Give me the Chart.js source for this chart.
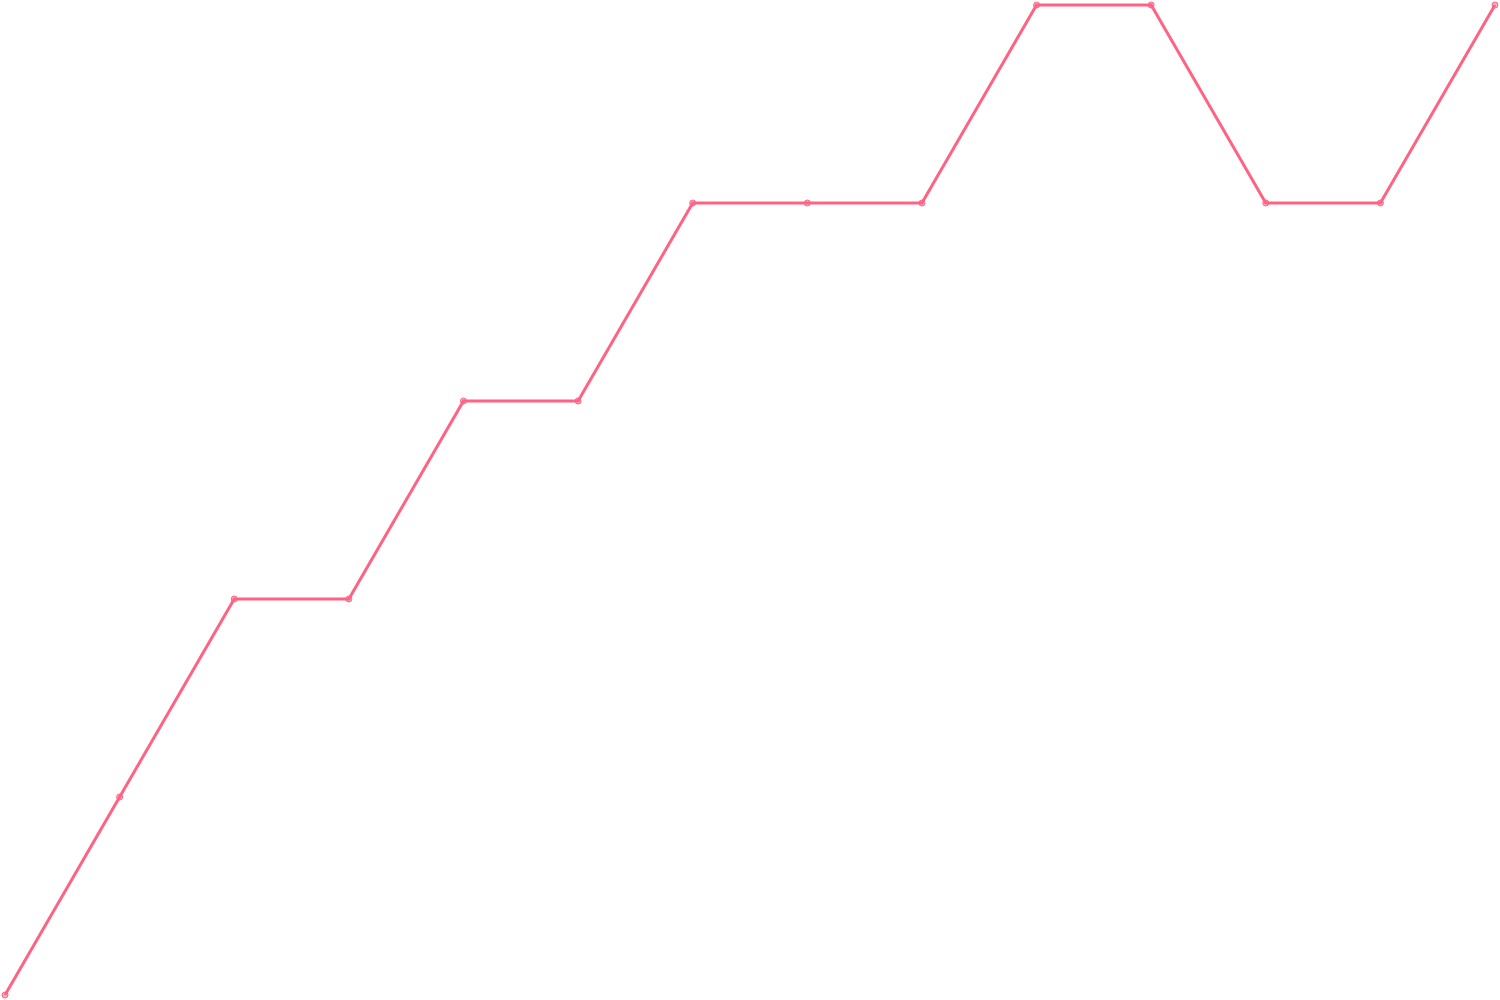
<!DOCTYPE html>
<html>
<head>
<meta charset="utf-8">
<script src="https://cdn.jsdelivr.net/npm/chart.js@4"></script>
<style>
  html, body { margin: 0; padding: 0; background: #fff; }
  #wrap { width: 1500px; height: 1000px; }
</style>
</head>
<body>
<div id="wrap"><canvas id="stepChart"></canvas></div>
<script>
// labels (hidden axis) and values
var labels = ['1', '2', '3', '4', '5', '6', '7', '8', '9', '10', '11', '12', '13', '14'];
var values = [0, 1, 2, 2, 3, 3, 4, 4, 4, 5, 5, 4, 4, 5];

var ctx = document.getElementById('stepChart').getContext('2d');
var chart = new Chart(ctx, {
    type: 'line',
    data: {
        labels: labels,
        datasets: [{
            data: values,
            borderColor: 'rgb(255, 99, 132)',
            backgroundColor: 'rgba(255, 99, 132, 0.5)',
            borderWidth: 3,
            pointRadius: 3,
            pointBorderWidth: 1,
            fill: false,
            tension: 0,
            clip: false
        }]
    },
    options: {
        responsive: true,
        maintainAspectRatio: false,
        animation: false,
        layout: { padding: 5 },
        scales: {
            x: { display: false },
            y: { display: false, min: 0, max: 5 }
        },
        plugins: {
            legend: { display: false },
            tooltip: { enabled: false }
        }
    }
});
</script>
</body>
</html>
